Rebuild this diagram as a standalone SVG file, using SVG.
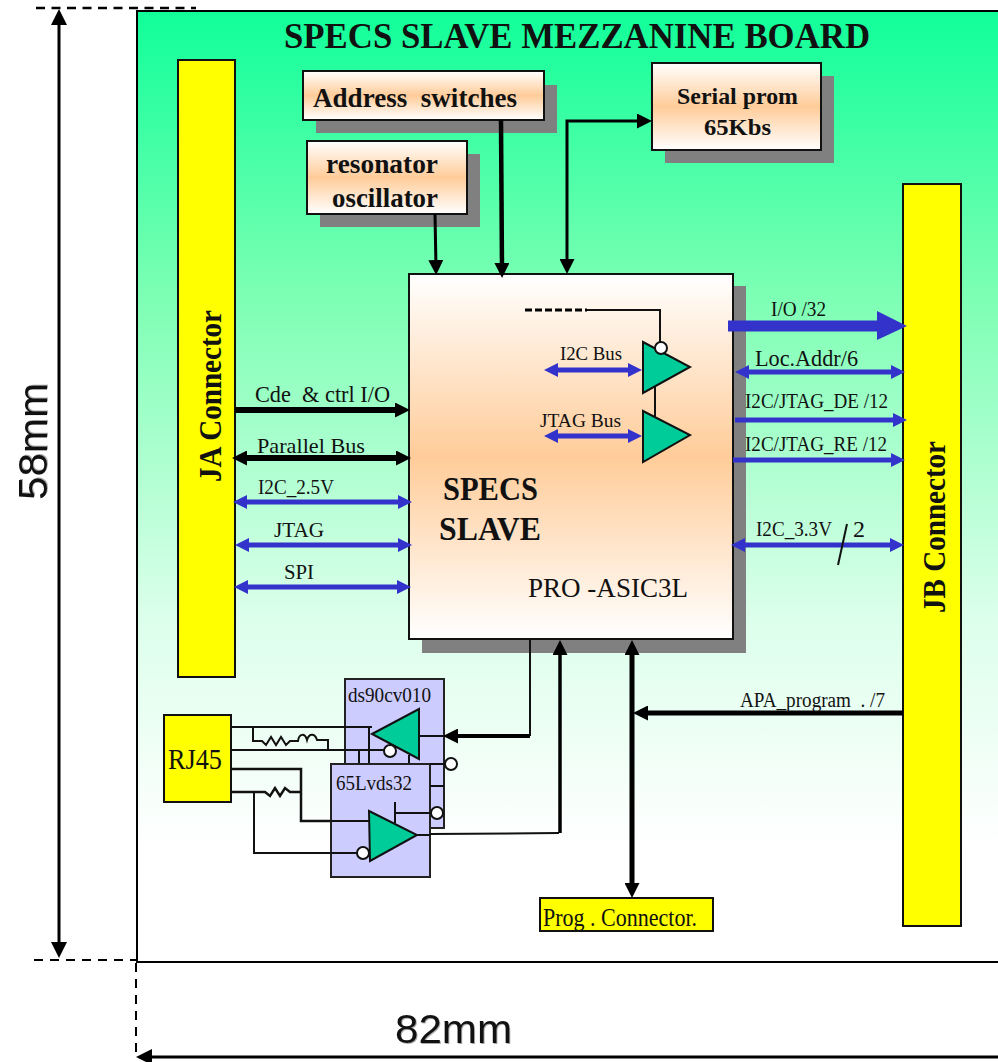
<svg xmlns="http://www.w3.org/2000/svg" width="998" height="1062" viewBox="0 0 998 1062">
<style>
text{font-family:"Liberation Serif","Times New Roman",serif;fill:#111}
.b{font-weight:bold}
.dim{font-family:"Liberation Sans",Arial,sans-serif;font-size:40px;filter:drop-shadow(1.5px 1.5px 0 #aaa)}
.box{stroke:#111;stroke-width:2}
.sh{fill:#808080}
.yl{fill:#ff0;stroke:#111;stroke-width:2}
.ic{fill:#ccf;stroke:#222;stroke-width:2}
.tri{fill:#0c9;stroke:#111;stroke-width:2}
.inv{fill:#fff;stroke:#111;stroke-width:2}
.w{fill:none;stroke:#111;stroke-width:2}
.k{fill:none;stroke:#000;stroke-width:4}
.k6{fill:none;stroke:#000;stroke-width:6}
.bl{fill:none;stroke:#33c;stroke-width:5}
.dsh{fill:none;stroke:#000;stroke-width:2;stroke-dasharray:9 7}
.ka{marker-end:url(#ak)}
.kb{marker-start:url(#ak);marker-end:url(#ak)}
.ba{marker-end:url(#ab)}
.bb{marker-start:url(#ab);marker-end:url(#ab)}
.da{fill:none;stroke:#000;stroke-width:3;marker-start:url(#ad);marker-end:url(#ad)}
</style>
<defs>
<linearGradient id="gb" x1="0" y1="0" x2="0" y2="1"><stop offset="0" stop-color="#10ff99"/><stop offset=".3" stop-color="#7dffb4"/><stop offset=".64" stop-color="#dcffeb"/><stop offset=".88" stop-color="#fff"/></linearGradient>
<linearGradient id="go" x1="0" y1="0" x2="0" y2="1"><stop offset="0" stop-color="#fff"/><stop offset=".5" stop-color="#fc9"/><stop offset="1" stop-color="#fff"/></linearGradient>
<marker id="ak" markerUnits="userSpaceOnUse" markerWidth="15" markerHeight="15" viewBox="0 0 15 15" refX="8" refY="7.5" orient="auto-start-reverse"><path d="M0 0L15 7.5L0 15Z" fill="#000"/></marker>
<marker id="ab" markerUnits="userSpaceOnUse" markerWidth="14" markerHeight="14" viewBox="0 0 14 14" refX="7" refY="7" orient="auto-start-reverse"><path d="M0 0L14 7L0 14Z" fill="#33c"/></marker>
<marker id="ad" markerUnits="userSpaceOnUse" markerWidth="16" markerHeight="16" viewBox="0 0 16 16" refX="8" refY="8" orient="auto-start-reverse"><path d="M0 0L16 8L0 16Z" fill="#000"/></marker>
</defs>

<g id="board">
<rect x="137" y="11" width="864" height="951" fill="url(#gb)" stroke="#000" stroke-width="2"/>
<text class="b" x="284" y="48" font-size="36" textLength="586" lengthAdjust="spacingAndGlyphs">SPECS SLAVE MEZZANINE BOARD</text>
</g>

<g id="dimensions">
<path class="dsh" style="stroke-width:2.5;stroke-dasharray:9 6.5" d="M36 8H196"/>
<path class="dsh" d="M34 960H137"/>
<path class="dsh" d="M136 963V1057"/>
<path class="da" d="M59 17V950"/>
<path class="da" d="M144 1057H1010"/>
<text class="dim" transform="translate(47 500) rotate(-90)" textLength="117" lengthAdjust="spacingAndGlyphs">58mm</text>
<text class="dim" x="395" y="1043" textLength="117" lengthAdjust="spacingAndGlyphs">82mm</text>
</g>

<g id="ja-connector">
<rect class="yl" x="178" y="60" width="57" height="617"/>
<text class="b" transform="translate(221 482) rotate(-90)" font-size="32" textLength="172" lengthAdjust="spacingAndGlyphs">JA Connector</text>
</g>
<g id="jb-connector">
<rect class="yl" x="903" y="184" width="58" height="742"/>
<text class="b" transform="translate(945 613) rotate(-90)" font-size="32" textLength="172" lengthAdjust="spacingAndGlyphs">JB Connector</text>
</g>

<g id="address-switches">
<rect class="sh" x="316" y="85" width="241" height="48"/>
<rect class="box" x="303" y="71" width="241" height="49" fill="url(#go)"/>
<text class="b" x="313" y="107" font-size="27" xml:space="preserve" textLength="204" lengthAdjust="spacingAndGlyphs">Address  switches</text>
</g>
<g id="resonator-oscillator">
<rect class="sh" x="320" y="154" width="160" height="73"/>
<rect class="box" x="307" y="141" width="160" height="73" fill="url(#go)"/>
<text class="b" x="326" y="173" font-size="27" textLength="112" lengthAdjust="spacingAndGlyphs">resonator</text>
<text class="b" x="332" y="207" font-size="27" textLength="106" lengthAdjust="spacingAndGlyphs">oscillator</text>
</g>
<g id="serial-prom">
<rect class="sh" x="665" y="76" width="169" height="87"/>
<rect class="box" x="652" y="63" width="169" height="87" fill="url(#go)"/>
<text class="b" x="677" y="104" font-size="24" textLength="121" lengthAdjust="spacingAndGlyphs">Serial prom</text>
<text class="b" x="704" y="135" font-size="24" textLength="67" lengthAdjust="spacingAndGlyphs">65Kbs</text>
</g>

<g id="specs-slave">
<rect class="sh" x="422" y="286" width="324" height="367"/>
<rect class="box" x="409" y="274" width="324" height="365" fill="url(#go)"/>
<text class="b" x="443" y="500" font-size="33" textLength="95" lengthAdjust="spacingAndGlyphs">SPECS</text>
<text class="b" x="439" y="540" font-size="33" textLength="102" lengthAdjust="spacingAndGlyphs">SLAVE</text>
<text x="528" y="597" font-size="28" xml:space="preserve" textLength="160" lengthAdjust="spacingAndGlyphs">PRO -ASIC3L</text>
<path class="w" d="M587 310H660V342"/>
<path d="M525 310H587" fill="none" stroke="#000" stroke-width="3" stroke-dasharray="7 3"/>
<path class="w" d="M655 384V417"/>
<polygon class="tri" points="643,342 690,367 643,393"/>
<polygon class="tri" points="643,411 690,435 643,462"/>
<circle class="inv" cx="661" cy="348" r="6"/>
<text x="560" y="360" font-size="19" textLength="62" lengthAdjust="spacingAndGlyphs">I2C Bus</text>
<text x="540" y="427" font-size="19" textLength="81" lengthAdjust="spacingAndGlyphs">JTAG Bus</text>
</g>

<g id="ds90cv010">
<rect class="ic" x="345" y="679" width="99" height="149"/>
<text x="348" y="702" font-size="22" textLength="83" lengthAdjust="spacingAndGlyphs">ds90cv010</text>
<path class="w" d="M369 727V766M359 751V766M409 755V766M419 736H444"/>
<polygon class="tri" points="372,734 419,709 419,759"/>
</g>
<g id="rj45">
<rect class="yl" x="164" y="715" width="67" height="87"/>
<text x="168" y="769" font-size="30" textLength="54" lengthAdjust="spacingAndGlyphs">RJ45</text>
</g>
<g id="rj45-wiring">
<path class="w" d="M231 727H372"/>
<path class="w" d="M253 727V741H262L266 745L271 737L276 745L281 737L286 745L290 741H298C299 733 305 733 307 740C309 733 315 733 317 740L320 740H328V751"/>
<path class="w" d="M231 750H385"/>
<path class="w" style="stroke-width:2.5" d="M231 769H301V821H369"/>
<path class="w" style="stroke-width:2.5" d="M231 792H265L270 796L275 788L280 796L285 788L290 792H301"/>
<path class="w" d="M254 792V853H357"/>
</g>
<g id="inv-ds90"><circle class="inv" cx="390" cy="751" r="6"/></g>
<g id="lvds32">
<rect class="ic" x="331" y="764" width="99" height="113"/>
<text x="336" y="790" font-size="22" textLength="76" lengthAdjust="spacingAndGlyphs">65Lvds32</text>
<path class="w" d="M331 821H369M331 853H357M395 802V823M395 813H431M430 786H444M430 764H445M417 835H430"/>
<polygon class="tri" points="369,811 417,835 370,861"/>
<circle class="inv" cx="363" cy="853" r="6"/>
<circle class="inv" cx="437" cy="813" r="6"/>
<circle class="inv" cx="451" cy="764" r="6"/>
</g>

<g id="prog-connector">
<rect class="yl" x="540" y="898" width="173" height="33"/>
<text x="543" y="926" font-size="25" xml:space="preserve" textLength="154" lengthAdjust="spacingAndGlyphs">Prog . Connector.</text>
</g>

<g id="connectors">
<path class="k" style="stroke-width:3" marker-end="url(#ak)" d="M435 214L436 268"/>
<path class="k ka" style="stroke-width:4.5" d="M501 120L502 271"/>
<path class="k kb" style="stroke-width:3" d="M567 267V121H645"/>
<path class="k6 ka" d="M235 410H403"/>
<path class="k6 kb" d="M239 458H404"/>
<path class="bl bb" d="M240 502H405"/>
<path class="bl bb" d="M242 545H405"/>
<path class="bl bb" d="M241 587H404"/>
<path class="bl" style="stroke-width:11" d="M728 326H880"/>
<polygon points="877,311 907,326 877,340" fill="#33c"/>
<path class="bl bb" d="M742 372H898"/>
<path class="bl ba" d="M735 420H900"/>
<path class="bl ba" d="M733 460H898"/>
<path class="bl bb" d="M738 545H897"/>
<path class="w" d="M847 524L838 565"/>
<path class="bl bb" d="M551 370H635"/>
<path class="bl bb" d="M551 436H635"/>
<path class="w" d="M530 639V736"/>
<path class="k ka" d="M530 736H450"/>
<path class="w" d="M430 834L559 833"/>
<path class="k ka" style="stroke-width:3.5" d="M560 833V647"/>
<path class="k kb" style="stroke-width:5" d="M632 647V891"/>
<path class="k ka" style="stroke-width:5" d="M903 713H640"/>
<text x="255" y="402" font-size="24" xml:space="preserve" textLength="135" lengthAdjust="spacingAndGlyphs">Cde  &amp; ctrl I/O</text>
<text x="257" y="453" font-size="22" textLength="108" lengthAdjust="spacingAndGlyphs">Parallel Bus</text>
<text x="258" y="494" font-size="20" textLength="76" lengthAdjust="spacingAndGlyphs">I2C_2.5V</text>
<text x="274" y="537" font-size="20" textLength="50" lengthAdjust="spacingAndGlyphs">JTAG</text>
<text x="284" y="579" font-size="20" textLength="30" lengthAdjust="spacingAndGlyphs">SPI</text>
<text x="771" y="316" font-size="20" textLength="55" lengthAdjust="spacingAndGlyphs">I/O /32</text>
<text x="755" y="366" font-size="24" textLength="103" lengthAdjust="spacingAndGlyphs">Loc.Addr/6</text>
<text x="745" y="408" font-size="20" textLength="143" lengthAdjust="spacingAndGlyphs">I2C/JTAG_DE /12</text>
<text x="745" y="451" font-size="20" textLength="142" lengthAdjust="spacingAndGlyphs">I2C/JTAG_RE /12</text>
<text x="756" y="536" font-size="21" textLength="76" lengthAdjust="spacingAndGlyphs">I2C_3.3V</text>
<text x="853" y="537" font-size="24">2</text>
<text x="740" y="707" font-size="20" xml:space="preserve" textLength="145" lengthAdjust="spacingAndGlyphs">APA_program  . /7</text>
</g>
</svg>
